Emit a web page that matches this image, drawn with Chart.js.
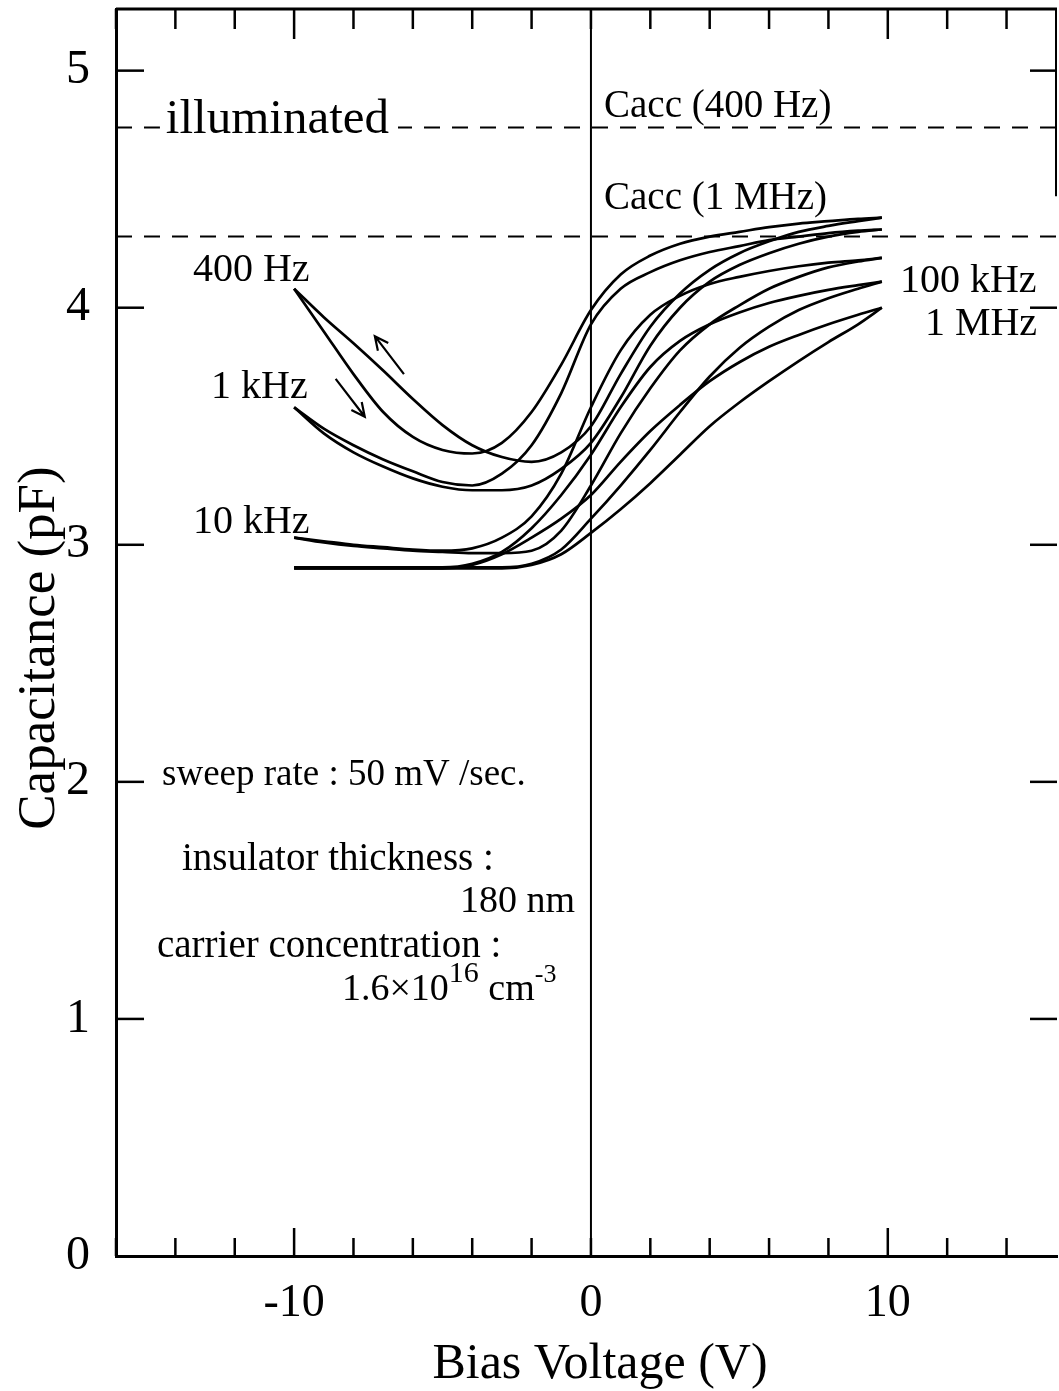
<!DOCTYPE html>
<html><head><meta charset="utf-8">
<script src="https://cdn.jsdelivr.net/npm/chart.js@4/dist/chart.umd.min.js"></script>
<style>html,body{margin:0;padding:0;background:#fff;}canvas{display:block;}</style>
</head><body>
<canvas id="c" width="1059" height="1391"></canvas>
<script>
// ---- data (bias voltage in V, capacitance in pF) ----
const biasV = [-10,-9,-8,-7,-6,-5,-4,-3,-2,-1,0,1,2,3,4,5,6,7,8,9,9.8];
const c400HzFwd = [4.08,3.90,3.72,3.56,3.455,3.40,3.385,3.43,3.56,3.76,3.99,4.14,4.22,4.27,4.30,4.32,4.34,4.355,4.365,4.375,4.38];
const c400HzRev = [4.08,3.96,3.85,3.735,3.615,3.505,3.42,3.37,3.35,3.39,3.50,3.72,3.92,4.06,4.16,4.23,4.28,4.32,4.345,4.365,4.38];
const c1kHzFwd  = [3.58,3.49,3.42,3.36,3.31,3.265,3.25,3.30,3.42,3.64,3.93,4.08,4.15,4.20,4.235,4.26,4.285,4.30,4.315,4.325,4.33];
const c1kHzRev  = [3.58,3.47,3.39,3.33,3.28,3.245,3.23,3.23,3.25,3.32,3.43,3.62,3.84,4.00,4.11,4.18,4.23,4.27,4.30,4.32,4.33];
const c10kHzFwd = [3.03,3.015,3.00,2.99,2.98,2.975,2.985,3.03,3.12,3.30,3.58,3.82,3.97,4.05,4.10,4.13,4.155,4.175,4.19,4.20,4.21];
const c10kHzRev = [3.03,3.01,2.995,2.985,2.975,2.97,2.965,2.965,2.975,3.06,3.25,3.47,3.66,3.82,3.93,4.01,4.08,4.13,4.17,4.195,4.21];
const c100kHzFwd= [2.905,2.905,2.905,2.905,2.905,2.905,2.92,2.97,3.07,3.21,3.38,3.58,3.75,3.86,3.93,3.98,4.02,4.05,4.075,4.095,4.11];
const c100kHzRev= [2.905,2.905,2.905,2.905,2.905,2.905,2.905,2.905,2.92,2.98,3.11,3.25,3.40,3.56,3.71,3.83,3.92,3.99,4.04,4.08,4.11];
const c1MHzFwd  = [2.90,2.90,2.90,2.90,2.90,2.90,2.915,2.96,3.03,3.11,3.21,3.35,3.48,3.59,3.69,3.77,3.835,3.885,3.93,3.97,4.00];
const c1MHzRev  = [2.90,2.90,2.90,2.90,2.90,2.90,2.90,2.90,2.915,2.96,3.05,3.15,3.26,3.38,3.50,3.60,3.69,3.775,3.855,3.93,4.00];
const caccLevels = [4.76, 4.30];          // Cacc (400 Hz), Cacc (1 MHz)
const xRange = [-16, 15.7];
const yRange = [0, 5.26];
const xTickLabels = [-10, 0, 10];
const yTickLabels = [0, 1, 2, 3, 4, 5];

const curves = [
  ['400 Hz forward', c400HzFwd], ['400 Hz reverse', c400HzRev],
  ['1 kHz forward', c1kHzFwd], ['1 kHz reverse', c1kHzRev],
  ['10 kHz forward', c10kHzFwd], ['10 kHz reverse', c10kHzRev],
  ['100 kHz forward', c100kHzFwd], ['100 kHz reverse', c100kHzRev],
  ['1 MHz forward', c1MHzFwd], ['1 MHz reverse', c1MHzRev]
];

const serif = '"Liberation Serif", "Times New Roman", Times, serif';

const datasets = curves.map(([label, ys]) => ({
  label,
  data: biasV.map((x, i) => ({x, y: ys[i]})),
  borderColor: '#000', borderWidth: 2.7, pointRadius: 0,
  cubicInterpolationMode: 'monotone', fill: false
}));
caccLevels.forEach((lv, i) => datasets.push({
  label: 'Cacc ' + i,
  data: [{x: xRange[0], y: lv}, {x: xRange[1], y: lv}],
  borderColor: '#000', borderWidth: 2, borderDash: [16, 12], pointRadius: 0, fill: false
}));
datasets.push({
  label: 'zero', data: [{x: 0, y: yRange[0]}, {x: 0, y: yRange[1]}],
  borderColor: '#000', borderWidth: 2, pointRadius: 0, fill: false
});

// annotations in data coordinates
const textNotes = [
  {t: 'Cacc (400 Hz)', x: 0.44, y: 4.804, s: 39},
  {t: 'Cacc (1 MHz)', x: 0.44, y: 4.416, s: 39},
  {t: '400 Hz', x: -13.41, y: 4.112, s: 40},
  {t: '1 kHz', x: -12.80, y: 3.619, s: 40},
  {t: '10 kHz', x: -13.41, y: 3.049, s: 40},
  {t: '100 kHz', x: 10.41, y: 4.066, s: 40},
  {t: '1 MHz', x: 11.25, y: 3.884, s: 40},
  {t: 'sweep rate : 50 mV /sec.', x: -14.45, y: 1.987, s: 37},
  {t: 'insulator thickness :', x: -13.78, y: 1.628, s: 39},
  {t: '180 nm', x: -4.41, y: 1.451, s: 38},
  {t: 'carrier concentration :', x: -14.62, y: 1.261, s: 39}
];
const arrows = [
  {from: [-6.30, 3.72], to: [-7.28, 3.88]},
  {from: [-8.60, 3.70], to: [-7.62, 3.54]}
];

const decor = {
  id: 'decor',
  afterDatasetsDraw(chart) {
    const ctx = chart.ctx, xs = chart.scales.x, ys = chart.scales.y, a = chart.chartArea;
    const X = v => xs.getPixelForValue(v), Y = v => ys.getPixelForValue(v);
    ctx.save();
    ctx.strokeStyle = '#000'; ctx.fillStyle = '#000'; ctx.lineCap = 'butt';
    // frame: top border and partial right border
    ctx.lineWidth = 3;
    ctx.beginPath(); ctx.moveTo(a.left, a.top); ctx.lineTo(a.right, a.top); ctx.stroke();
    ctx.lineWidth = 2;
    ctx.beginPath(); ctx.moveTo(a.right - 1, a.top); ctx.lineTo(a.right - 1, Y(4.47)); ctx.stroke();
    // x ticks (inward, bottom and top)
    ctx.lineWidth = 2.5;
    xs.ticks.forEach(tk => {
      const v = tk.value, px = X(v), major = Math.abs(v) === 10;
      ctx.beginPath(); ctx.moveTo(px, a.bottom); ctx.lineTo(px, a.bottom - (major ? 28 : 18)); ctx.stroke();
      ctx.beginPath(); ctx.moveTo(px, a.top); ctx.lineTo(px, a.top + (major ? 30 : 20)); ctx.stroke();
    });
    // y ticks (inward, left and right)
    ys.ticks.forEach(tk => {
      const v = tk.value; if (v === 0) return;
      const py = Y(v);
      ctx.beginPath(); ctx.moveTo(a.left, py); ctx.lineTo(a.left + 28, py); ctx.stroke();
      ctx.beginPath(); ctx.moveTo(a.right, py); ctx.lineTo(a.right - 27, py); ctx.stroke();
    });
    // "illuminated" label over the upper dashed line
    ctx.fillStyle = '#fff';
    ctx.fillRect(X(-14.52), Y(caccLevels[0]) - 6, X(-6.5) - X(-14.52), 12);
    ctx.fillStyle = '#000';
    ctx.textBaseline = 'alphabetic'; ctx.textAlign = 'left';
    ctx.font = `49px ${serif}`;
    ctx.fillText('illuminated', X(-14.32), Y(4.736));
    // other notes
    textNotes.forEach(n => { ctx.font = `${n.s}px ${serif}`; ctx.fillText(n.t, X(n.x), Y(n.y)); });
    // carrier concentration value with superscripts
    let px = X(-8.39); const base = Y(1.080);
    ctx.font = `38px ${serif}`; ctx.fillText('1.6\u00d710', px, base); px += ctx.measureText('1.6\u00d710').width;
    ctx.font = `30px ${serif}`; ctx.fillText('16', px, base - 18); px += ctx.measureText('16').width;
    ctx.font = `38px ${serif}`; ctx.fillText(' cm', px, base); px += ctx.measureText(' cm').width;
    ctx.font = `26px ${serif}`; ctx.fillText('-3', px, base - 18);
    // arrows
    ctx.lineWidth = 2.2;
    arrows.forEach(ar => {
      const x1 = X(ar.from[0]), y1 = Y(ar.from[1]), x2 = X(ar.to[0]), y2 = Y(ar.to[1]);
      const ang = Math.atan2(y2 - y1, x2 - x1), h = 15, sp = 0.45;
      ctx.beginPath(); ctx.moveTo(x1, y1); ctx.lineTo(x2, y2);
      ctx.moveTo(x2 - h * Math.cos(ang - sp), y2 - h * Math.sin(ang - sp)); ctx.lineTo(x2, y2);
      ctx.lineTo(x2 - h * Math.cos(ang + sp), y2 - h * Math.sin(ang + sp));
      ctx.stroke();
    });
    // axis titles
    ctx.font = `50px ${serif}`; ctx.textAlign = 'center';
    ctx.fillText('Bias Voltage (V)', 600, 1378);
    ctx.font = `53px ${serif}`;
    ctx.save(); ctx.translate(54, 648); ctx.rotate(-Math.PI / 2);
    ctx.fillText('Capacitance (pF)', 0, 0); ctx.restore();
    ctx.restore();
  }
};

new Chart(document.getElementById('c'), {
  type: 'line',
  data: {datasets},
  options: {
    responsive: false, animation: false, devicePixelRatio: 1,
    layout: {padding: {top: 9, right: 2, left: 0, bottom: 0}},
    plugins: {legend: {display: false}, tooltip: {enabled: false}},
    scales: {
      x: {
        type: 'linear', min: xRange[0], max: xRange[1],
        afterFit(s) { s.height = 135; s.paddingLeft = 0; s.paddingRight = 0; },
        grid: {display: false, drawTicks: false},
        border: {display: true, color: '#000', width: 3},
        ticks: {stepSize: 2, includeBounds: false, autoSkip: false, maxRotation: 0, padding: 20, color: '#000',
          font: {family: serif, size: 46},
          callback: v => xTickLabels.includes(v) ? String(v) : ''}
      },
      y: {
        type: 'linear', min: yRange[0], max: yRange[1],
        afterFit(s) { s.width = 116; s.paddingTop = 0; s.paddingBottom = 0; },
        grid: {display: false, drawTicks: false},
        border: {display: true, color: '#000', width: 3},
        ticks: {stepSize: 1, includeBounds: false, padding: 26, color: '#000',
          font: {family: serif, size: 48},
          callback: v => yTickLabels.includes(v) ? String(v) : ''}
      }
    }
  },
  plugins: [decor]
});
</script>
</body></html>
